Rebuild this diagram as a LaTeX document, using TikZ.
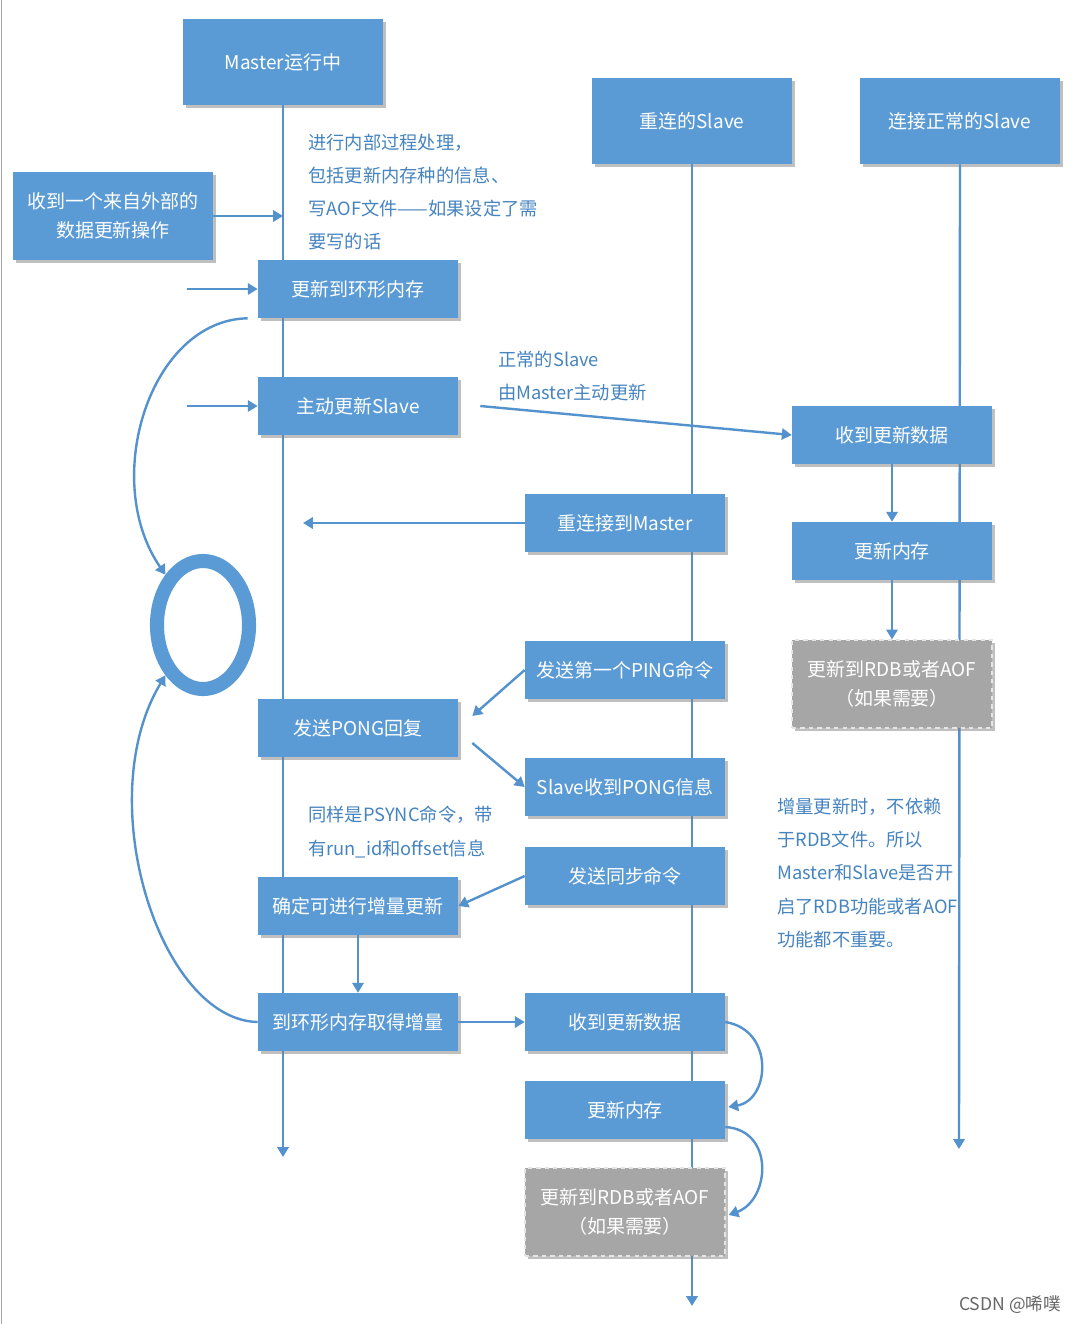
\documentclass[tikz,border=0pt]{standalone}
\usepackage{fontspec}
\newfontfamily\cjk{Noto Sans CJK SC}
\usetikzlibrary{calc,shadows,shapes.geometric,arrows.meta}
\definecolor{BoxBlue}{RGB}{91,155,213}
\definecolor{LineBlue}{RGB}{84,146,206}
\definecolor{NoteBlue}{RGB}{70,132,192}
\definecolor{OptGray}{RGB}{166,166,166}
\tikzset{
  stepbox/.style={rectangle, fill=BoxBlue, draw=none, text=white,
    minimum width=5cm, minimum height=1.45cm, align=center, inner sep=2pt,
    font=\cjk\fontsize{13.5pt}{21pt}\selectfont,
    drop shadow={shadow xshift=2.2pt, shadow yshift=-2.2pt, fill=black!50, opacity=0.5}},
  headbox/.style={stepbox, minimum height=2.15cm},
  optbox/.style={stepbox, fill=OptGray, draw=white!80!gray, dashed, line width=0.8pt, minimum height=2.2cm},
  flow/.style={draw=LineBlue, line width=1.7pt, -{Triangle[width=8pt,length=7pt]}},
  note/.style={text=NoteBlue, align=left, anchor=west, inner sep=0pt,
    font=\cjk\fontsize{13pt}{23.5pt}\selectfont},
  cacheloop/.style={ellipse, draw=BoxBlue, line width=10pt, minimum width=2.3cm,
    minimum height=3.2cm, inner sep=0pt},
}

\begin{document}
\begin{tikzpicture}[x=0.025cm, y=-0.025cm]

  \fill[white] (0,0) rectangle (1080,1324);
  \useasboundingbox (0,0) rectangle (1080,1324);
  \draw[gray!70, line width=1.4pt] (1.5,0) -- (1.5,1324);

  % --- (A) column heads and their life lines ---
  \node[headbox] (master) at (283,62) {Master运行中};
  \node[headbox] (rslave) at (692,121) {重连的Slave};
  \node[headbox] (nslave) at (960,121) {连接正常的Slave};

  \coordinate (mEnd) at (283,1157);
  \coordinate (rEnd) at (692,1306);
  \coordinate (nEnd) at (959,1149);
  \draw[flow] (master.south) -- (mEnd);
  \draw[flow] (rslave.south) -- (rEnd);
  \draw[flow] (nslave.south) -- (nEnd);

  % --- (B) master side ---
  \node[stepbox, minimum height=2.2cm] (ext) at (113,216) {收到一个来自外部的\\数据更新操作};
  \node[stepbox] (ring) at (358,289) {更新到环形内存};
  \node[stepbox] (active) at (358,406) {主动更新Slave};
  \node[stepbox] (pong) at (358,728) {发送PONG回复};
  \node[stepbox] (sure) at (358,906) {确定可进行增量更新};
  \node[stepbox] (fetch) at (358,1022) {到环形内存取得增量};

  \node[note] (inner) at (308,192) {进行内部过程处理，\\包括更新内存种的信息、\\写AOF文件——如果设定了需\\要写的话};
  \node[note] (psync) at (308,832) {同样是PSYNC命令，带\\有run\_id和offset信息};

  \coordinate (mHit) at (283,216);
  \coordinate (inA) at (187,289);
  \coordinate (inB) at (187,406);
  \draw[flow] (ext.east) -- (mHit);
  \draw[flow] (inA) -- (ring.west);
  \draw[flow] (inB) -- (active.west);
  \draw[flow] (sure.south) -- (fetch.north);

  % ring buffer and the two loops round it
  \node[cacheloop] (cache) at (203,625) {};
  \draw[flow] ($(ring.south west)+(-10,0)$) .. controls (150,320) and (100,480) .. (cache.north west);
  \draw[flow] (fetch.west) .. controls (160,1020) and (90,800) .. (cache.south west);

  % --- (C) reconnected slave ---
  \node[stepbox] (reconn) at (625,523) {重连接到Master};
  \node[stepbox] (ping) at (625,670) {发送第一个PING命令};
  \node[stepbox] (gotpong) at (625,787) {Slave收到PONG信息};
  \node[stepbox] (sync) at (625,876) {发送同步命令};
  \node[stepbox] (recvB) at (625,1022) {收到更新数据};
  \node[stepbox] (memB) at (625,1110) {更新内存};
  \node[optbox] (diskB) at (625,1212) {更新到RDB或者AOF\\（如果需要）};

  \coordinate (rcHit) at (303,523);
  \draw[flow] (reconn.west) -- (rcHit);
  \draw[flow] (ping.west) -- ($(pong.east)+(14,-12)$);
  \draw[flow] ($(pong.east)+(14,15)$) -- (gotpong.west);
  \draw[flow] (sync.west) -- (sure.east);
  \draw[flow] (fetch.east) -- (recvB.west);
  \draw[flow] (recvB.east) .. controls (775,1030) and (770,1100) .. ($(memB.east)+(3,-3)$);
  \draw[flow] ($(memB.east)+(0,17)$) .. controls (775,1130) and (770,1200) .. ($(diskB.east)+(3,3)$);

  % --- (D) normal slave ---
  \node[stepbox] (recvA) at (892,435) {收到更新数据};
  \node[stepbox] (memA) at (892,551) {更新内存};
  \node[optbox] (diskA) at (892,684) {更新到RDB或者AOF\\（如果需要）};

  \draw[flow] ($(active.east)+(22,0)$) -- (recvA.west);
  \draw[flow] (recvA.south) -- (memA.north);
  \draw[flow] (memA.south) -- (diskA.north);

  \node[note] (normal) at (498,376) {正常的Slave\\由Master主动更新};
  \node[note] (norely) at (777,873) {增量更新时，不依赖\\于RDB文件。所以\\Master和Slave是否开\\启了RDB功能或者AOF\\功能都不重要。};

  \node[font=\cjk\fontsize{12.5pt}{14pt}\selectfont, text=black!60] (mark) at (1010,1305) {CSDN @唏噗};

\end{tikzpicture}
\end{document}
